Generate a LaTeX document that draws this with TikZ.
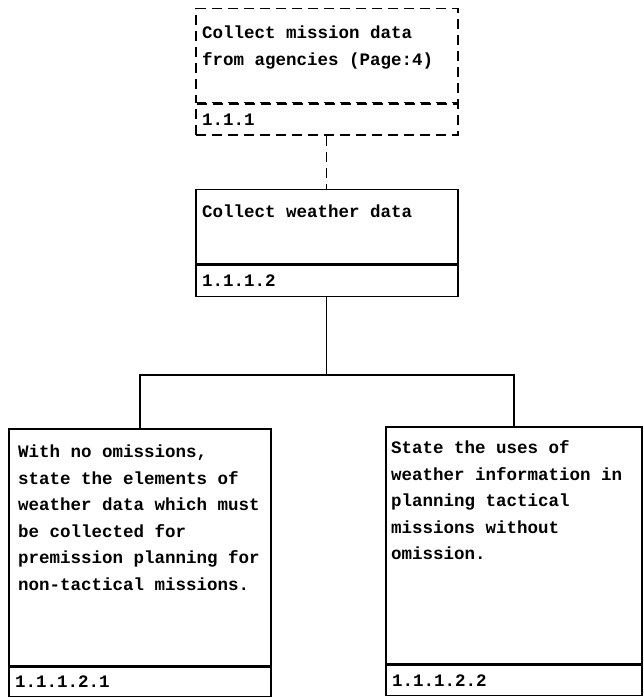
\documentclass[tikz,border=0pt]{standalone}
\usepackage{fontspec}
\setmonofont{Liberation Mono}
\usetikzlibrary{calc}

\begin{document}
\begin{tikzpicture}[x=1pt, y=-1pt,
	box/.style={draw, line width=1.5pt, anchor=north west, inner sep=0pt},
	dbox/.style={box, dashed, dash pattern=on 10pt off 6pt},
	txt/.style={anchor=north west, inner sep=0pt, align=left,
		font=\ttfamily\bfseries\fontsize{17.5}{26.5}\selectfont},
	idtxt/.style={anchor=west, inner sep=0pt,
		font=\ttfamily\bfseries\fontsize{17.5}{20}\selectfont}]
	\useasboundingbox (0,0) rectangle (643,700);
	% boxes
	\node [dbox, minimum width=262pt, minimum height=94pt] (collect) at (195,8) {};
	\node [dbox, minimum width=262pt, minimum height=31pt] (collectid) at (collect.south west) {};
	\node [box, minimum width=262pt, minimum height=74pt] (weather) at (195,189) {};
	\node [box, minimum width=262pt, minimum height=31pt] (weatherid) at (weather.south west) {};
	\node [box, minimum width=262pt, minimum height=237pt] (elements) at (8,428) {};
	\node [box, minimum width=262pt, minimum height=29pt] (elementsid) at (elements.south west) {};
	\node [box, minimum width=256pt, minimum height=237pt] (uses) at (385,426) {};
	\node [box, minimum width=256pt, minimum height=30pt] (usesid) at (uses.south west) {};
	% texts
	\node [txt] (collecttxt) at ([shift={(7,12)}]collect.north west)
		{\strut Collect mission data\\from agencies (Page:4)};
	\node [idtxt] (collectidtxt) at ([xshift=7pt]collectid.west) {1.1.1};
	\node [txt] (weathertxt) at ([shift={(7,10)}]weather.north west)
		{\strut Collect weather data};
	\node [idtxt] (weatheridtxt) at ([xshift=7pt]weatherid.west) {1.1.1.2};
	\node [txt] (elementstxt) at ([shift={(10,11)}]elements.north west)
		{\strut With no omissions,\\state the elements of\\weather data which must\\be collected for\\premission planning for\\non-tactical missions.};
	\node [idtxt] (elementsidtxt) at ([xshift=7pt]elementsid.west) {1.1.1.2.1};
	\node [txt] (usestxt) at ([shift={(6,9)}]uses.north west)
		{\strut State the uses of\\weather information in\\planning tactical\\missions without\\omission.};
	\node [idtxt] (usesidtxt) at ([xshift=7pt]usesid.west) {1.1.1.2.2};
	% connectors
	\coordinate (bus) at (weatherid.south |- 0,375);
	\draw [line width=1.2pt, dashed, dash pattern=on 10pt off 6pt] (collectid.south) -- (weather.north);
	\draw [line width=1.2pt] (weatherid.south) -- (bus);
	\draw [line width=1.5pt] (elements.north) |- (bus) -| (uses.north);
\end{tikzpicture}
\end{document}
